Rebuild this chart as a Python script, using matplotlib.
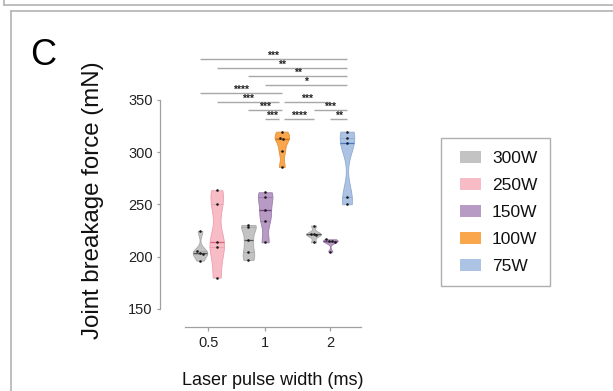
import numpy as np
import matplotlib
matplotlib.use("Agg")
import matplotlib.pyplot as plt
import matplotlib.patches as mpatches
from matplotlib.lines import Line2D
from matplotlib.legend_handler import HandlerPatch

plt.rcParams['font.family'] = ['Liberation Sans', 'DejaVu Sans']

# ---------------- data ----------------
pulse_widths = ['0.5', '1', '2']
powers = ['300W', '250W', '150W', '100W', '75W']
power_fill = {'300W': '#c3c3c3', '250W': '#f8bcc6', '150W': '#b79bc4',
              '100W': '#f9a64c', '75W': '#adc3e4'}
power_edge = {'300W': '#a9a9a9', '250W': '#eaa0ac', '150W': '#9c7cab',
              '100W': '#e8903a', '75W': '#90a9d4'}
power_median = {'300W': '#555555', '250W': '#e0647a', '150W': '#6e4a80',
                '100W': '#d0741a', '75W': '#4a78c8'}

# (pulse width, laser power) of each violin, in drawing order
violin_pulse = ['0.5', '0.5', '1', '1', '1', '2', '2', '2']
violin_power = ['300W', '250W', '300W', '150W', '100W', '300W', '150W', '75W']

force_05ms_300W = [224.6, 205.0, 204.0, 203.0, 196.2]
force_05ms_250W = [263.6, 250.2, 213.8, 209.7, 180.0]
force_1ms_300W = [230.4, 228.0, 216.0, 204.8, 196.9]
force_1ms_150W = [261.7, 256.9, 244.7, 234.0, 213.8]
force_1ms_100W = [319.7, 314.0, 313.0, 301.2, 285.9]
force_2ms_300W = [229.8, 222.0, 221.5, 221.0, 213.8]
force_2ms_150W = [216.7, 215.5, 215.0, 214.0, 204.8]
force_2ms_75W = [319.7, 313.3, 308.5, 257.6, 250.2]
violin_values = [force_05ms_300W, force_05ms_250W, force_1ms_300W, force_1ms_150W,
                 force_1ms_100W, force_2ms_300W, force_2ms_150W, force_2ms_75W]

# significance comparisons: violin index pairs, stars, bracket row (0 = lowest)
sig_left = [3, 4, 6, 2, 5, 1, 4, 0, 3, 2, 1, 0]
sig_right = [4, 5, 7, 4, 7, 4, 6, 4, 7, 7, 7, 7]
sig_stars = ['***', '****', '**', '***', '***', '***', '***', '****', '*', '**', '**', '***']
sig_row = [0, 0, 0, 1, 1, 2, 2, 3, 4, 5, 6, 7]

y_ticks = [150, 200, 250, 300, 350]

# ---------------- figure ----------------
W, H = 613, 391
fig = plt.figure(figsize=(W / 100, H / 100), dpi=100)

ax_l, ax_r, ax_t, ax_b = 185, 361, 47.75, 326.7
ax = fig.add_axes([ax_l / W, 1 - ax_b / H, (ax_r - ax_l) / W, (ax_b - ax_t) / H])

# slot positions: consecutive violins within a group, wider gap between groups
positions = []
group_centers = []
x = 0.0
for pw in pulse_widths:
    start = x
    for vp in violin_pulse:
        if vp == pw:
            positions.append(x)
            x += 1.0
    group_centers.append((start + x - 1.0) / 2)
    x += 0.9

vwidth = 0.87
for p, vals, pwr in zip(positions, violin_values, violin_power):
    parts = ax.violinplot([vals], positions=[p], widths=vwidth, showextrema=False,
                          bw_method=0.4)
    body = parts['bodies'][0]
    body.set_facecolor(power_fill[pwr])
    body.set_edgecolor(power_edge[pwr])
    body.set_alpha(1)
    body.set_linewidth(0.6)
    body.set_zorder(2)
    verts = body.get_paths()[0].vertices
    right = verts[verts[:, 0] >= p]
    order = np.argsort(right[:, 1])
    ys, xs = right[order, 1], right[order, 0] - p
    q1, med, q3 = np.percentile(vals, [25, 50, 75])
    for q, col, lw in [(q1, power_edge[pwr], 0.6), (q3, power_edge[pwr], 0.6),
                       (med, power_median[pwr], 0.9)]:
        hw = np.interp(q, ys, xs)
        ax.plot([p - hw, p + hw], [q, q], color=col, lw=lw, zorder=3,
                solid_capstyle='butt')
    # deterministic swarm offsets for near-equal values
    sv = np.sort(np.asarray(vals))[::-1]
    offs = np.zeros(len(sv))
    i = 0
    while i < len(sv):
        j = i
        while j + 1 < len(sv) and abs(sv[j] - sv[j + 1]) < 1.6:
            j += 1
        k = j - i + 1
        offs[i:j + 1] = (np.arange(k) - (k - 1) / 2) * 0.17
        i = j + 1
    ax.scatter(p + offs, sv, s=3.5, color='#1a1a1a', zorder=4, linewidths=0)

# significance brackets
row_base, row_step = 331.8, 8.2
shrink = 0.15
for a, b, st, r in zip(sig_left, sig_right, sig_stars, sig_row):
    y = row_base + row_step * r
    xa, xb = positions[a], positions[b]
    for a2, b2, r2 in zip(sig_left, sig_right, sig_row):
        if r2 != r or (a2, b2) == (a, b):
            continue
        if b2 == a:
            xa += shrink
        if a2 == b:
            xb -= shrink
    ax.plot([xa, xb], [y, y], color='#a8a8a8', lw=1.0, solid_capstyle='butt',
            clip_on=False, zorder=1)
    ax.text((xa + xb) / 2, y - 1.8, st, ha='center', va='bottom', fontsize=7.5,
            color='#222222', fontweight='bold', clip_on=False)

ax.set_xlim(-0.9, 9.64)
ax.set_ylim(133, 400)

for s in ['top', 'right']:
    ax.spines[s].set_visible(False)
ax.spines['left'].set_position(('outward', 18))
ax.spines['left'].set_bounds(150, 350)
for s in ['left', 'bottom']:
    ax.spines[s].set_color('#a0a0a0')
    ax.spines[s].set_linewidth(0.9)

ax.set_yticks(y_ticks)
ax.set_yticklabels([str(t) for t in y_ticks])
ax.set_xticks(group_centers)
ax.set_xticklabels(pulse_widths)
ax.tick_params(axis='both', colors='#a0a0a0', labelcolor='#222222', labelsize=10.5,
               width=0.9)
ax.tick_params(axis='y', length=2.3, pad=3)
ax.tick_params(axis='x', length=3, pad=3.5)

ax.set_xlabel('Laser pulse width (ms)', fontsize=13, color='#111111')
ax.xaxis.set_label_coords(0.5, -0.1635)
ax.set_ylabel('Joint breakage force (mN)', fontsize=17.3, color='#111111')
ax.yaxis.set_label_coords(-0.463, 0.452)

# legend
def shifted_patch(legend, orig_handle, xdescent, ydescent, width, height, **kw):
    pw = 14.8
    return mpatches.Rectangle((width - pw - xdescent, -ydescent), pw, height)

handles = [mpatches.Patch(facecolor=power_fill[p], edgecolor='none', label=p)
           for p in powers]
leg = fig.legend(handles=handles, loc='upper left',
                 bbox_to_anchor=(440.7 / W, 1 - 138.3 / H), fontsize=12.5,
                 handlelength=1.6, handleheight=0.73, labelspacing=0.67,
                 handletextpad=0.63, borderpad=0.72, borderaxespad=0,
                 frameon=True, fancybox=False,
                 handler_map={mpatches.Patch: HandlerPatch(patch_func=shifted_patch)})
leg.get_frame().set_edgecolor('#9a9a9a')
leg.get_frame().set_linewidth(1.0)
for t in leg.get_texts():
    t.set_color('#111111')

# panel label
fig.text(30 / W, 1 - 65 / H, 'C', fontsize=26, ha='left', va='baseline', color='#000000')

# panel frames
fc = '#b9b9b9'
def fline(x0, y0, x1, y1):
    fig.add_artist(Line2D([x0 / W, x1 / W], [1 - y0 / H, 1 - y1 / H],
                          transform=fig.transFigure, color=fc, lw=1.3))
fline(3.5, 0, 3.5, 5.0)
fline(3.5, 5.0, W, 5.0)
fline(11.3, 11.3, W, 11.3)
fline(11.3, 11.3, 11.3, H)

fig.savefig('out.png', dpi=100)
